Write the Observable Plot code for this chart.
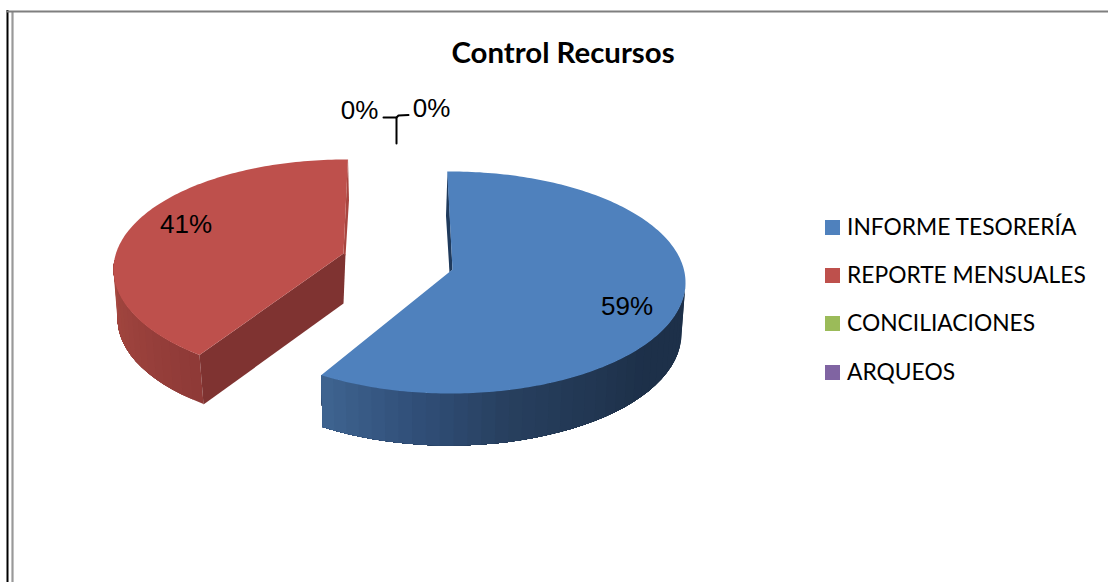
<!DOCTYPE html>
<html lang="es">
<head>
<meta charset="utf-8">
<title>Control Recursos</title>
<script src="https://cdn.jsdelivr.net/npm/d3@7"></script>
<script src="https://cdn.jsdelivr.net/npm/@observablehq/plot@0.6"></script>
<style>
  html, body { margin: 0; padding: 0; background: #fff; }
  svg { display: block; }
</style>
</head>
<body>
<div id="chart"></div>
<script>
// Chart data
const chartTitle = "Control Recursos";
const categories = ["INFORME TESORERÍA", "REPORTE MENSUALES", "CONCILIACIONES", "ARQUEOS"];
const shares = [59, 41, 0, 0];
const palette = ["#4F81BD", "#BE504C", "#9BBB59", "#8064A2"];

// Page geometry of the extruded, exploded pie
const W = 1108, H = 582;
const blueSlice = {
  top: {cx: 450, cy: 282, rx: 235, ry: 111},
  bottom: {cx: 449.5, cy: 333, rx: 231.5, ry: 112},
  apex: [452, 269],
  startShift: -0.8, endShift: 1,
  sideFrom: 90,
  sideStops: [[90, "#1d3049"], [125, "#1d3049"], [165, "#273f5e"], [190, "#31507a"], [214, "#3f6591"]],
  wall: [[447, 171], [445.5, 215], [449, 272], [452, 269]],
  wallColor: "#1f3a5c"
};
const redSlice = {
  top: {cx: 345, cy: 269, rx: 232, ry: 110},
  bottom: {cx: 349, cy: 318, rx: 232, ry: 110},
  apex: [343, 253],
  startShift: 6.6, endShift: 0.6,
  sideTo: 275,
  sideStops: [[219, "#8e3a37"], [245, "#9a413c"], [275, "#a64840"]],
  wall: [[343, 253], [345, 254], [343, 303], [203, 404], [199, 354.5]],
  wallColor: "#7f3331",
  rim: [[347.5, 158], [348.5, 200], [345, 255], [343, 253]],
  rimColor: "#a8453f"
};
const valueLabels = [
  {i: 0, x: 626.5, y: 306},
  {i: 1, x: 185.5, y: 224},
  {i: 2, x: 359, y: 110},
  {i: 3, x: 431, y: 108}
];
const leaderLines = [
  [[383, 117], [396, 117], [396, 143]],
  [[396, 117], [398, 115], [408, 114.5]]
];
const legendRows = [220, 268, 316, 365];

// Angles come straight from the shares, clockwise from twelve o'clock
const deg = 180 / Math.PI;
const arcs = d3.pie().sort(null).value(d => d)(shares);

const onEllipse = (e, t) => [
  e.cx + e.rx * Math.sin(t / deg),
  e.cy - e.ry * Math.cos(t / deg)
];
const span = (a, b, step) => {
  const n = Math.max(1, Math.ceil(Math.abs(b - a) / step));
  return d3.range(n + 1).map(k => a + (b - a) * k / n);
};

const polygons = [];
const addPolygon = (id, color, pts) => {
  [...pts, pts[0]].forEach(([x, y]) => polygons.push({id, color, x, y}));
};

function addSlice(name, arc, s) {
  const t0 = arc.startAngle * deg + s.startShift;
  const t1 = arc.endAngle * deg + s.endShift;
  const shade = d3.scaleLinear().domain(s.sideStops.map(d => d[0])).range(s.sideStops.map(d => d[1]))
    .interpolate(d3.interpolateRgb).clamp(true);

  // Outer side: each band is painted over the last, running to the far end of the side
  const from = s.sideFrom ?? t0;
  const to = s.sideTo ?? t1;
  const ts = span(from, to, 3.5);
  ts.slice(0, -1).forEach((a, k) => {
    const rest = ts.slice(k);
    addPolygon(`${name}-side-${k}`, shade(a + 1.75), [
      ...rest.map(t => onEllipse(s.top, t)),
      ...rest.slice().reverse().map(t => onEllipse(s.bottom, t))
    ]);
  });

  // Cut faces, then the top face over them
  addPolygon(`${name}-wall`, s.wallColor, s.wall);
  if (s.rim) addPolygon(`${name}-rim`, s.rimColor, s.rim);
  addPolygon(`${name}-top`, palette[arc.index], [s.apex, ...span(t0, t1, 1).map(t => onEllipse(s.top, t))]);
}
addSlice("reporte", arcs[1], redSlice);
addSlice("informe", arcs[0], blueSlice);

const leaderRows = leaderLines.flatMap((pts, id) => pts.map(([x, y]) => ({id, x, y})));

const labelFont = "'Liberation Sans', Arial, sans-serif";
const bodyFont = "Lato, 'Open Sans', sans-serif";

const plot = Plot.plot({
  width: W, height: H,
  margin: 0,
  x: {domain: [0, W], range: [0, W], axis: null},
  y: {domain: [0, H], range: [0, H], axis: null},
  color: {type: "identity"},
  marks: [
    // Outer frame
    Plot.ruleX([7], {y1: 10, y2: H, stroke: "#000", strokeWidth: 2}),
    Plot.ruleX([12], {y1: 11, y2: H, stroke: "#999", strokeWidth: 2.2}),
    Plot.ruleY([11], {x1: 6, x2: W, stroke: "#7f7f7f", strokeWidth: 2}),

    Plot.line(polygons, {x: "x", y: "y", z: "id", fill: "color", strokeWidth: 0, curve: "linear"}),

    // Leaders for the empty slices
    Plot.line(leaderRows, {x: "x", y: "y", z: "id", stroke: "#000", strokeWidth: 2, curve: "linear"}),

    Plot.text(valueLabels, {
      x: "x", y: "y", text: d => `${shares[d.i]}%`,
      fill: "#000", fontFamily: labelFont, fontSize: 26
    }),

    Plot.text([chartTitle], {
      x: [562.5], y: [53], text: d => d,
      fill: "#000", fontFamily: bodyFont, fontWeight: 700, fontSize: 29.4
    }),

    // Legend
    Plot.rect(categories, {
      x1: () => 825, x2: () => 840,
      y1: (d, i) => legendRows[i], y2: (d, i) => legendRows[i] + 15,
      fill: (d, i) => palette[i]
    }),
    Plot.text(categories, {
      x: () => 846.5, y: (d, i) => legendRows[i] + 7.5, text: d => d,
      textAnchor: "start", fill: "#000", fontFamily: bodyFont, fontSize: 22.8
    })
  ]
});
document.getElementById("chart").append(plot);
</script>
</body>
</html>
